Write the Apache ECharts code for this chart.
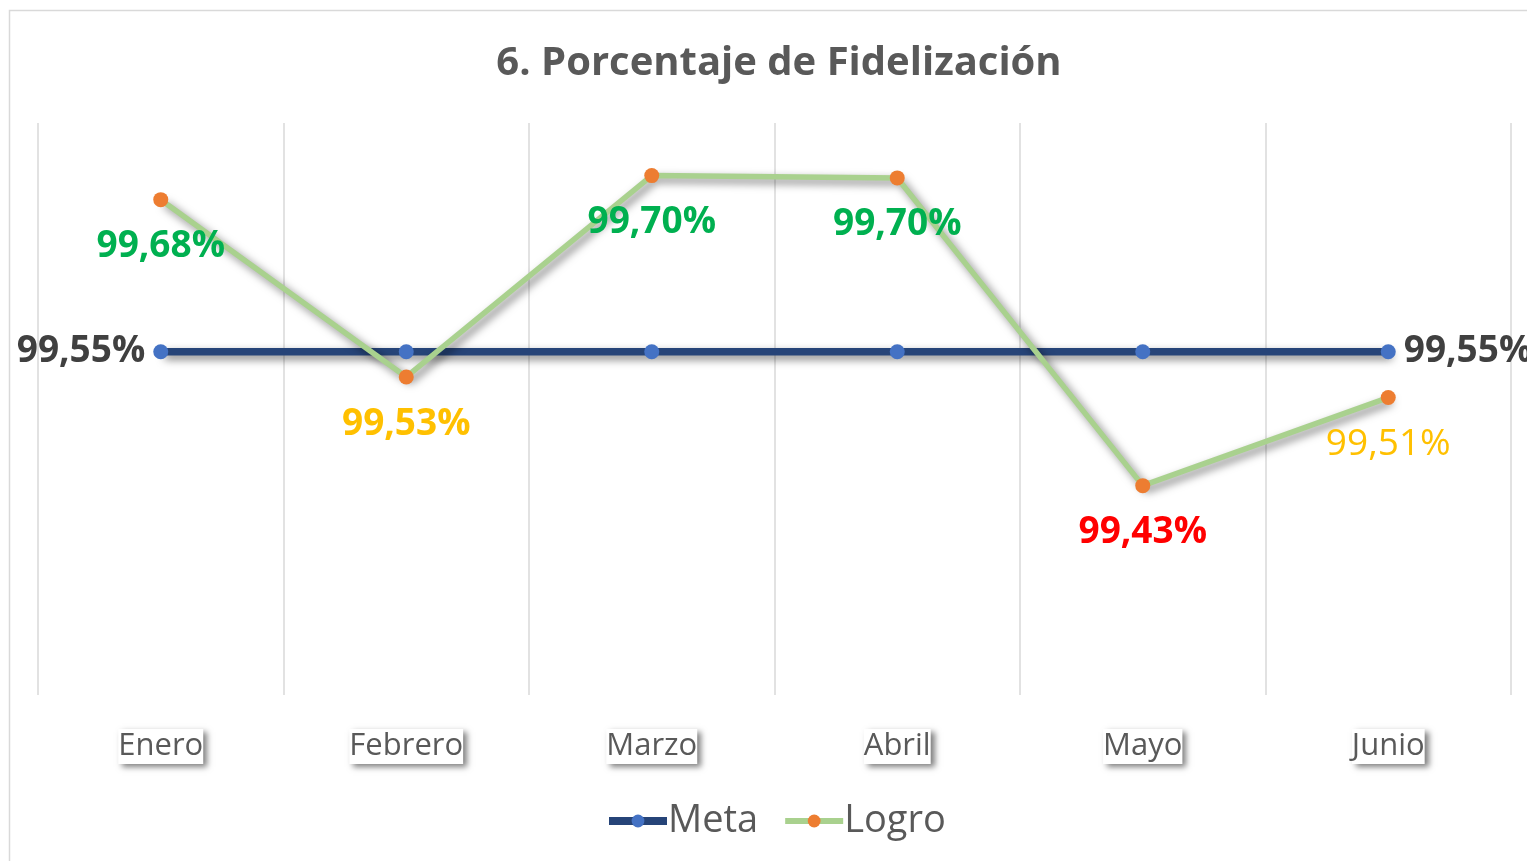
<!DOCTYPE html>
<html><head><meta charset="utf-8">
<script src="https://cdn.jsdelivr.net/npm/echarts@6/dist/echarts.min.js"></script>
<style>html,body{margin:0;padding:0;background:#fff}#c{width:1527px;height:861px}</style>
</head><body><div id="c"></div>
<script>
const categories = ['Enero','Febrero','Marzo','Abril','Mayo','Junio'];
const metaValues = [99.55, 99.55, 99.55, 99.55, 99.55, 99.55];
const logroValues = [99.683, 99.528, 99.704, 99.702, 99.433, 99.510];
const seriesNames = ['Meta','Logro'];
const titleText = '6. Porcentaje de Fidelización';

// label styles per month (presentation only)
const logroLabelStyles = [
  {color:'#00B050', fontWeight:'bold'},
  {color:'#FFC000', fontWeight:'bold'},
  {color:'#00B050', fontWeight:'bold'},
  {color:'#00B050', fontWeight:'bold'},
  {color:'#FF0000', fontWeight:'bold'},
  {color:'#FFC000', fontWeight:'normal'}
];
const FONT = 'Open Sans';
const fmt = v => v.toFixed(2).replace('.', ',') + '%';

const chart = echarts.init(document.getElementById('c'));
const shadow = {shadowColor:'rgba(0,0,0,0.5)', shadowBlur:8, shadowOffsetX:4, shadowOffsetY:4};

chart.setOption({
  animation:false,
  backgroundColor:'#fff',
  textStyle:{fontFamily:FONT},
  graphic:[{type:'rect', shape:{x:9.5,y:10.5,width:1540,height:860}, style:{fill:'none', stroke:'#D9D9D9', lineWidth:1.5}, silent:true, z:-10}],
  title:{text:titleText, left:774, textAlign:'center', top:39,
    textStyle:{fontFamily:FONT, fontSize:40, fontWeight:'bold', color:'#595959'}},
  legend:{bottom:16, left:600, itemWidth:58, itemHeight:16, itemGap:24,
    textStyle:{fontFamily:FONT, fontSize:38, color:'#595959', padding:[0,0,0,-4]},
    data:[
      {name:seriesNames[0], lineStyle:{width:8, color:'#264478'}},
      {name:seriesNames[1], lineStyle:{width:6, color:'#A9D18E'}}
    ]},
  grid:{left:38, right:16, top:123, bottom:166, containLabel:false},
  xAxis:{type:'category', data:categories, boundaryGap:true,
    axisLine:{show:false}, axisTick:{show:false},
    splitLine:{show:true, lineStyle:{color:'#D9D9D9', width:1.5}},
    axisLabel:{margin:34, fontFamily:FONT, fontSize:31, color:'#595959', backgroundColor:'#fff',
      padding:[2,0,2,0], shadowColor:'rgba(0,0,0,0.5)', shadowBlur:6, shadowOffsetX:4, shadowOffsetY:3}},
  yAxis:{type:'value', min:99.25, max:99.75, show:false, splitLine:{show:false}},
  series:[
    {name:seriesNames[0], type:'line', data:metaValues.map((v,i)=>({value:v,
        label:{show:i===0||i===metaValues.length-1, position:i===0?'left':'right', distance:8}})),
      symbol:'circle', symbolSize:15, itemStyle:{color:'#4472C4'},
      lineStyle:Object.assign({color:'#264478', width:7.5}, shadow),
      label:{formatter:p=>fmt(p.value), fontFamily:FONT, fontSize:37, fontWeight:'bold', color:'#404040'},
      z:2},
    {name:seriesNames[1], type:'line', data:logroValues.map((v,i)=>({value:v,
        label:Object.assign({show:true}, logroLabelStyles[i])})),
      symbol:'circle', symbolSize:15, itemStyle:{color:'#ED7D31'},
      lineStyle:Object.assign({color:'#A9D18E', width:5.5}, shadow),
      label:{position:'bottom', distance:21, formatter:p=>fmt(p.value), fontFamily:FONT, fontSize:37},
      z:3}
  ]
});
</script></body></html>
